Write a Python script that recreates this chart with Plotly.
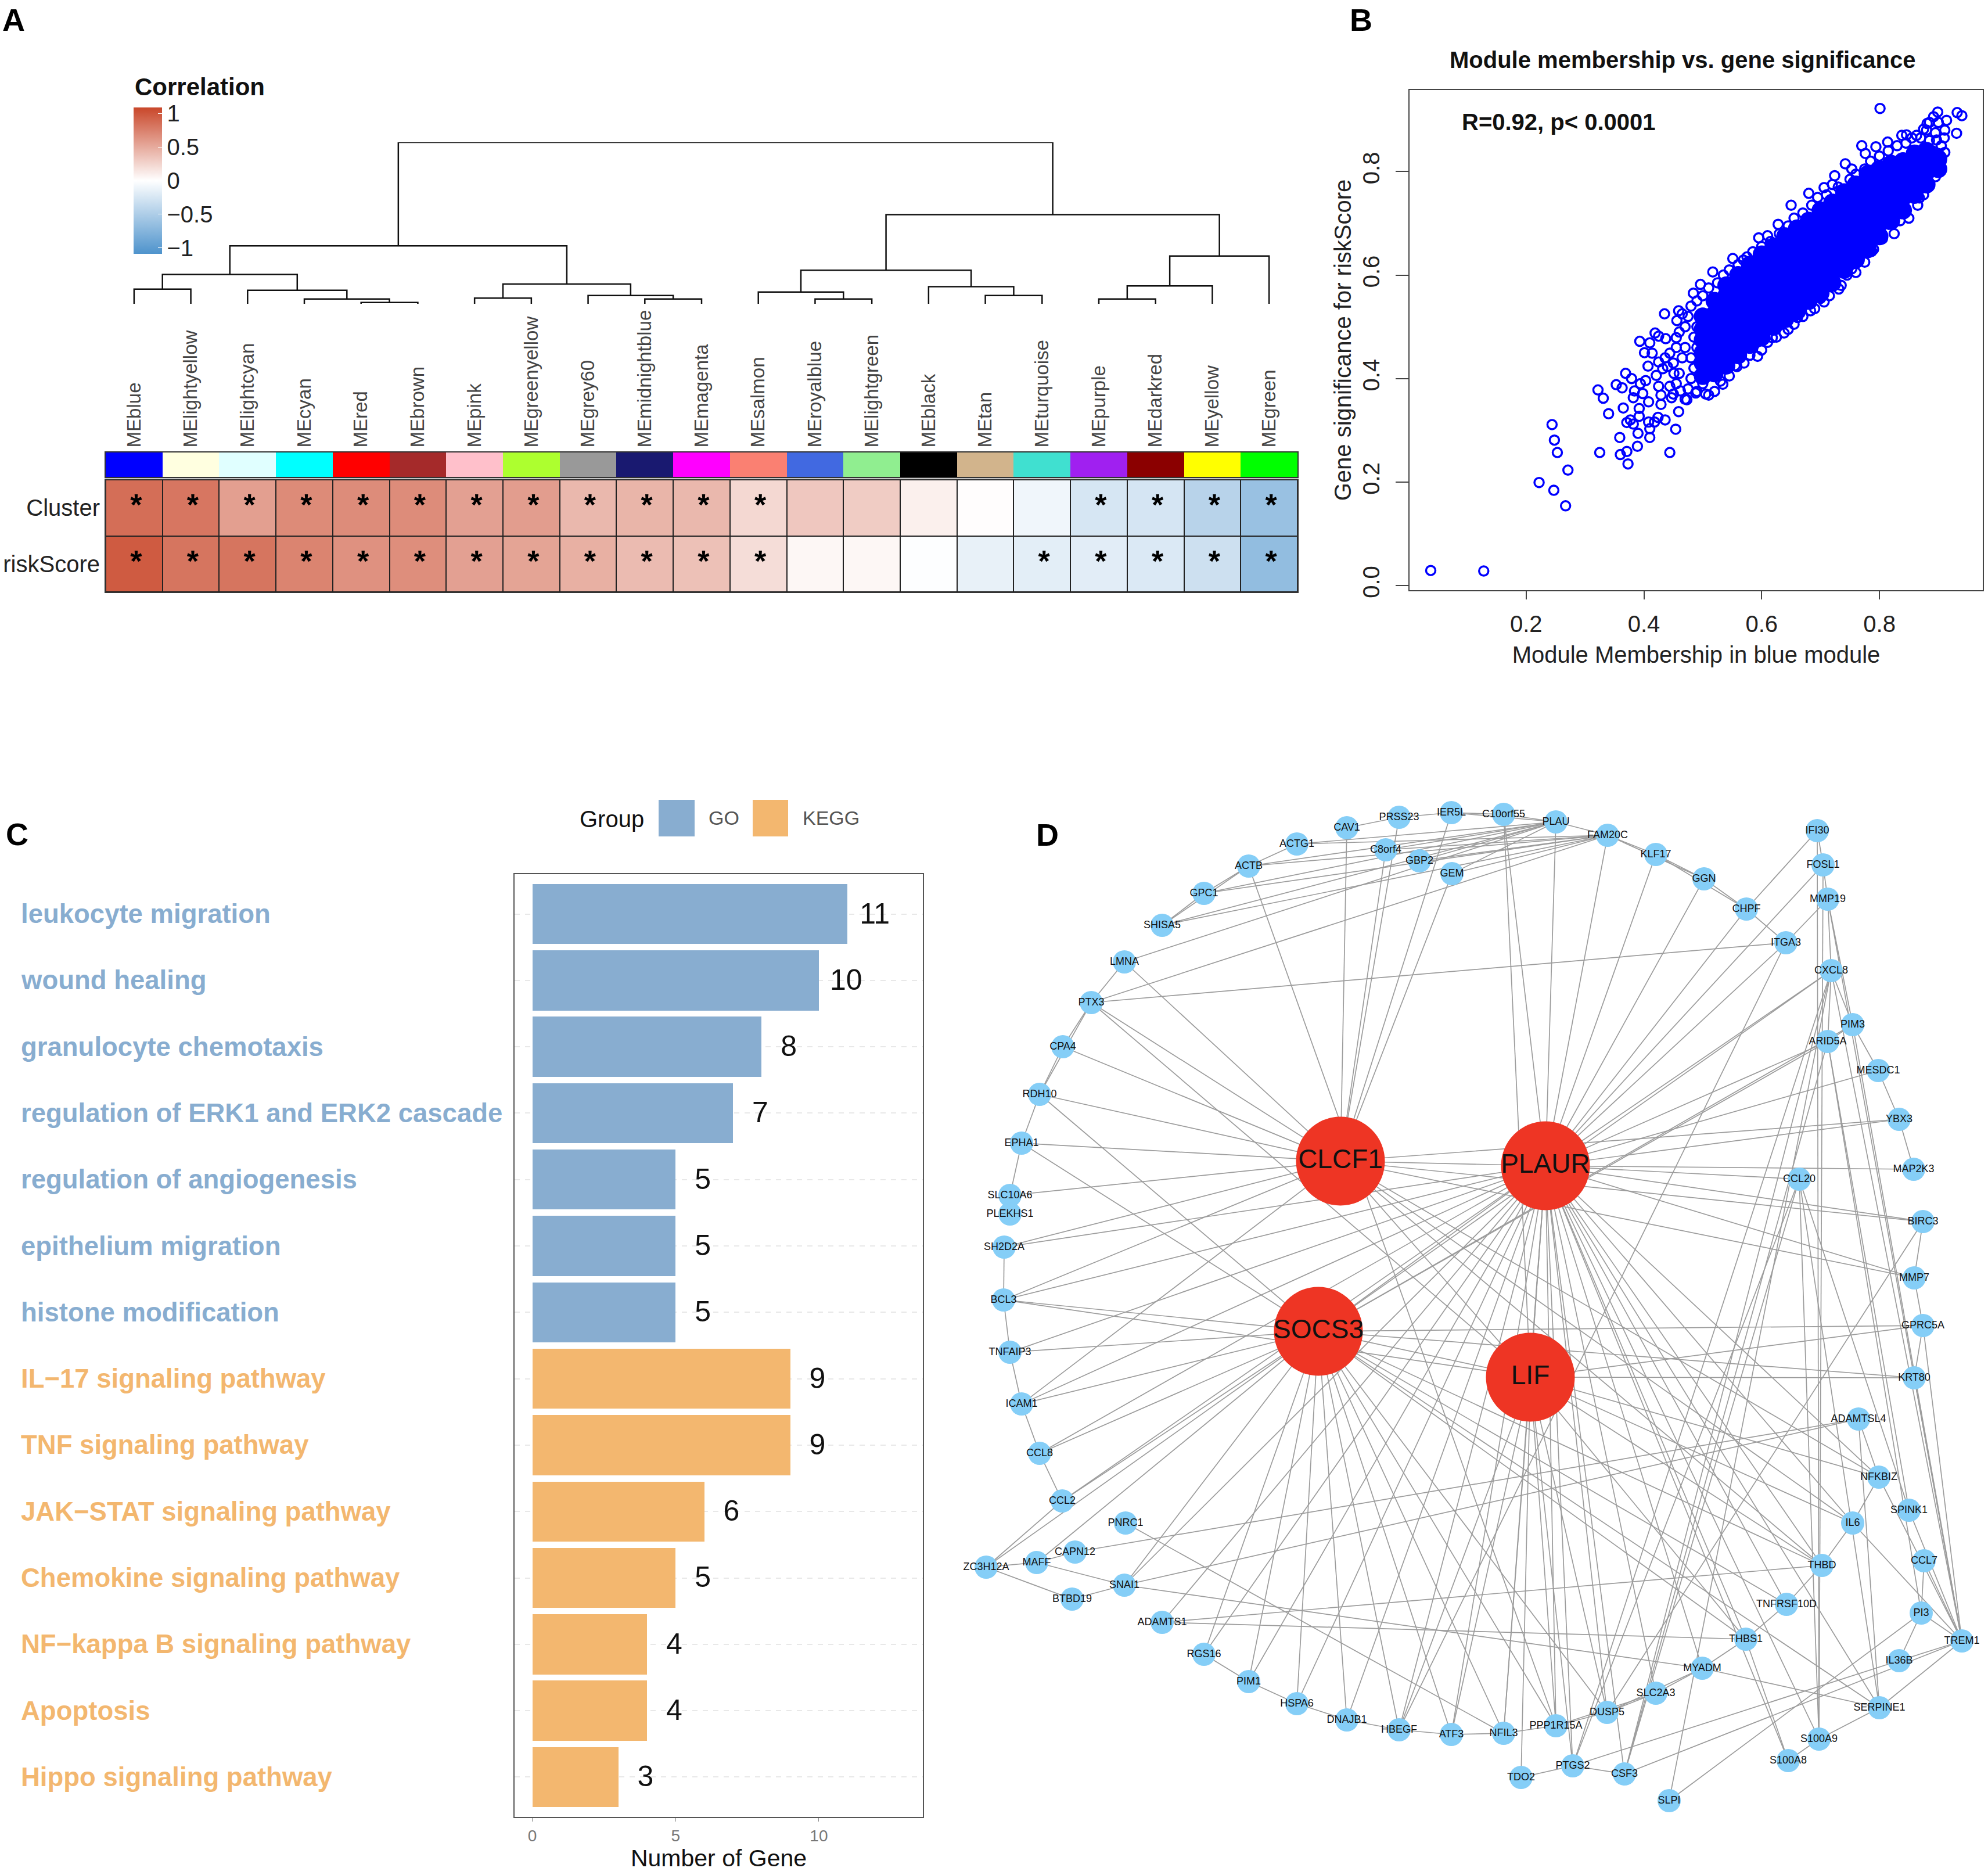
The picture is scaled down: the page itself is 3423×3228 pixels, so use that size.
import plotly.graph_objects as go

W, H = 3423, 3228
FONT = "Liberation Sans"

def dx(a, b):
    return [a / W, b / W]

def dy(top, bottom):
    return [1 - bottom / H, 1 - top / H]

# ---------- Panel A data ----------
module_names = ["MEblue", "MElightyellow", "MElightcyan", "MEcyan", "MEred", "MEbrown", "MEpink",
                "MEgreenyellow", "MEgrey60", "MEmidnightblue", "MEmagenta", "MEsalmon", "MEroyalblue",
                "MElightgreen", "MEblack", "MEtan", "MEturquoise", "MEpurple", "MEdarkred", "MEyellow", "MEgreen"]
module_colors = ["#0000FF", "#FFFFE0", "#E0FFFF", "#00FFFF", "#FF0000", "#A52A2A", "#FFC0CB", "#ADFF2F",
                 "#999999", "#191970", "#FF00FF", "#FA8072", "#4169E1", "#90EE90", "#000000", "#D2B48C",
                 "#40E0D0", "#A020F0", "#8B0000", "#FFFF00", "#00FF00"]
trait_names = ["Cluster", "riskScore"]
corr_cluster = [0.86, 0.81, 0.57, 0.69, 0.68, 0.68, 0.56, 0.58, 0.42, 0.44, 0.42, 0.23, 0.33, 0.30, 0.09, 0.01,
                -0.09, -0.25, -0.26, -0.44, -0.63]
corr_risk = [0.97, 0.82, 0.82, 0.73, 0.65, 0.67, 0.56, 0.54, 0.47, 0.40, 0.37, 0.20, 0.05, 0.05, -0.01, -0.14,
             -0.17, -0.18, -0.22, -0.31, -0.67]
star_cluster = [1] * 12 + [0] * 5 + [1] * 4
star_risk = [1] * 12 + [0] * 4 + [1] * 5
# merges: (left, right, height); index >= 21 refers to an earlier merge
dendro_merges = [(4, 5, .008), (3, 21, .030), (2, 22, .084), (0, 1, .091), (24, 23, .182), (6, 7, .035),
                 (9, 10, .030), (8, 27, .051), (26, 28, .122), (25, 29, .359), (12, 13, .030), (11, 31, .073),
                 (15, 16, .051), (14, 33, .106), (32, 34, .208), (17, 18, .030), (36, 19, .111), (37, 20, .296),
                 (35, 38, .552), (30, 39, 1.0)]

# ---------- Panel B data ----------
outlier_x = [.038, .128, .244, .248, .253, .271, .222, .247, .267, .322, .331, .340, .325, .353, .363, .369, .379,
             .365, .371, .359, .360, .371, .373, .389, .390, .410, .384, .382, .394, .403, .398, .392, .392, .377,
             .382, .408, .418, .424, .436, .410, .454, .444, .459, .408, .429, .435, .393, .410, .419, .425, .437,
             .401, .414, .407, .425, .436, .440, .421, .432, .425, .444, .429, .455, .459, .456, .444, .451, .447,
             .462, .484, .496, .517, .551, .569, .595, .610, .628, .650, .680, .706, .724, .742, .753, .770, .776,
             .794, .814, .801, .838, .846, .863, .875, .881, .892, .899, .932, .940, .931, .914, .911, .897, .911,
             .899, .886, .868, .838, .816, .801, .787, .753, .731, .706, .683, .661, .638, .618, .593, .558, .534,
             .510, .488, .473]
outlier_y = [.029, .028, .311, .281, .257, .223, .199, .184, .154, .378, .362, .332, .257, .388, .382, .410, .400,
             .343, .315, .286, .253, .259, .235, .269, .294, .286, .376, .363, .390, .396, .371, .342, .327, .320,
             .312, .316, .316, .325, .320, .303, .302, .257, .336, .355, .350, .525, .472, .469, .488, .482, .477,
             .450, .449, .424, .432, .440, .423, .406, .419, .385, .385, .368, .479, .531, .512, .449, .410, .363,
             .376, .565, .582, .606, .632, .629, .672, .676, .698, .735, .758, .769, .792, .815, .805, .850, .835,
             .848, .857, .922, .870, .871, .870, .882, .893, .906, .915, .914, .908, .874, .899, .880, .861, .837,
             .811, .797, .749, .736, .698, .672, .646, .612, .573, .548, .531, .518, .488, .479, .443, .423, .389,
             .368, .372, .359]
fringe_x = [.45, .455, .46, .45, .465, .455, .47, .46, .47, .465, .475, .48, .49, .50, .51, .475, .48, .47, .485, .48,
            .49, .485, .49, .495, .49, .50, .505, .50, .505, .51, .525, .535, .545, .56, .575, .585, .60, .615, .63,
            .645, .655, .67, .685, .695, .71, .72, .73, .75, .76, .775, .785, .80, .815, .83, .845, .855, .87, .88,
            .52, .53, .545, .555, .57, .58, .60, .61, .625, .645, .655, .67, .69, .70, .715, .735, .745, .76, .775,
            .79, .805, .825, .835, .85, .865, .875, .885, .895, .905, .90, .905, .91, .895, .885, .875, .89, .90, .885]
fringe_y = [.37, .39, .41, .43, .44, .46, .46, .49, .50, .525, .52, .54, .55, .56, .575, .38, .40, .36, .42, .44,
            .46, .48, .50, .52, .375, .39, .37, .41, .43, .45, .585, .60, .61, .62, .635, .645, .655, .665, .68,
            .695, .71, .72, .735, .75, .755, .775, .77, .785, .795, .805, .82, .83, .84, .85, .855, .865, .865, .88,
            .375, .395, .405, .425, .43, .445, .455, .47, .48, .495, .505, .52, .535, .555, .56, .58, .60, .605, .625,
            .65, .67, .68, .705, .71, .735, .755, .775, .79, .82, .835, .85, .865, .875, .86, .845, .84, .895, .895]
cloud_columns_x = [.50, .52, .54, .56, .58, .60, .62, .64, .66, .68, .70, .72, .74, .76, .78, .80, .82,
                   .84, .86, .88, .90]
cloud_columns_y = [
    [.405, .43, .45, .475, .495, .52],
    [.41, .435, .455, .48, .50, .525, .55],
    [.425, .45, .47, .495, .515, .54, .56, .58],
    [.445, .47, .49, .51, .535, .555, .58, .60],
    [.465, .485, .51, .53, .55, .575, .595, .62],
    [.48, .505, .525, .55, .57, .595, .615, .64],
    [.50, .52, .545, .565, .59, .61, .635, .655],
    [.515, .54, .56, .585, .605, .63, .65, .675],
    [.53, .55, .575, .595, .62, .64, .665, .69],
    [.55, .57, .595, .615, .64, .66, .685, .705],
    [.565, .59, .61, .635, .655, .68, .70, .725],
    [.585, .61, .63, .655, .675, .70, .72, .74],
    [.61, .63, .655, .675, .70, .72, .745, .76],
    [.63, .65, .675, .695, .72, .74, .765, .775],
    [.65, .67, .695, .715, .74, .76, .785, .795],
    [.675, .70, .72, .745, .765, .79, .805],
    [.705, .73, .75, .775, .795, .815],
    [.725, .75, .775, .795, .82],
    [.755, .77, .795, .815, .835],
    [.775, .80, .82, .84],
    [.805, .825],
]

# ---------- Panel C data ----------
term_names = ["leukocyte migration", "wound healing", "granulocyte chemotaxis", "regulation of ERK1 and ERK2 cascade",
              "regulation of angiogenesis", "epithelium migration", "histone modification", "IL−17 signaling pathway",
              "TNF signaling pathway", "JAK−STAT signaling pathway", "Chemokine signaling pathway",
              "NF−kappa B signaling pathway", "Apoptosis", "Hippo signaling pathway"]
gene_counts = [11, 10, 8, 7, 5, 5, 5, 9, 9, 6, 5, 4, 4, 3]
term_groups = ["GO"] * 7 + ["KEGG"] * 7
GROUP_COL = {"GO": "#88ADD0", "KEGG": "#F3B76F"}

# ---------- Panel D data ----------
gene_nodes = {
    "CAV1": (2319, 1425), "PRSS23": (2409, 1407), "IER5L": (2499, 1399), "ACTG1": (2233, 1453), "C8orf4": (2386, 1463),
    "GBP2": (2444, 1482), "GEM": (2500, 1504), "ACTB": (2150, 1491), "GPC1": (2073, 1538), "SHISA5": (2001, 1593),
    "LMNA": (1936, 1656), "PTX3": (1879, 1726), "CPA4": (1830, 1802), "RDH10": (1790, 1884), "EPHA1": (1759, 1968),
    "SLC10A6": (1739, 2058), "PLEKHS1": (1739, 2090), "SH2D2A": (1729, 2147), "BCL3": (1728, 2238),
    "TNFAIP3": (1739, 2328), "ICAM1": (1759, 2417), "CCL8": (1790, 2502), "CCL2": (1829, 2584), "PNRC1": (1938, 2622),
    "CAPN12": (1851, 2672), "MAFF": (1785, 2690), "ZC3H12A": (1698, 2698), "SNAI1": (1936, 2729), "BTBD19": (1846, 2753),
    "ADAMTS1": (2001, 2793), "RGS16": (2073, 2848), "PIM1": (2150, 2895), "HSPA6": (2233, 2933), "DNAJB1": (2319, 2961),
    "HBEGF": (2409, 2978), "ATF3": (2499, 2986), "C10orf55": (2589, 1402), "PLAU": (2679, 1415), "FAM20C": (2768, 1438),
    "KLF17": (2851, 1471), "GGN": (2934, 1513), "CHPF": (3007, 1565), "ITGA3": (3075, 1623), "IFI30": (3129, 1430),
    "FOSL1": (3139, 1489), "MMP19": (3147, 1548), "CXCL8": (3153, 1671), "PIM3": (3190, 1764), "ARID5A": (3147, 1793),
    "MESDC1": (3234, 1843), "YBX3": (3270, 1927), "MAP2K3": (3295, 2013), "CCL20": (3098, 2030), "BIRC3": (3311, 2103),
    "MMP7": (3296, 2200), "GPRC5A": (3311, 2282), "KRT80": (3296, 2372), "ADAMTSL4": (3200, 2443), "NFKBIZ": (3235, 2543),
    "SPINK1": (3287, 2600), "IL6": (3190, 2622), "CCL7": (3313, 2687), "THBD": (3137, 2695), "TNFRSF10D": (3076, 2762),
    "PI3": (3308, 2777), "TREM1": (3378, 2825), "THBS1": (3006, 2822), "IL36B": (3270, 2859), "MYADM": (2931, 2872),
    "SERPINE1": (3236, 2940), "SLC2A3": (2851, 2915), "DUSP5": (2767, 2948), "PPP1R15A": (2679, 2971), "NFIL3": (2589, 2984),
    "S100A9": (3132, 2994), "S100A8": (3079, 3031), "PTGS2": (2708, 3040), "CSF3": (2797, 3054), "TDO2": (2619, 3060),
    "SLPI": (2874, 3100),
}
hub_nodes = {"CLCF1": (2308, 1999), "PLAUR": (2661, 2007), "SOCS3": (2270, 2292), "LIF": (2635, 2371)}
clcf1_links = ["CAV1", "PRSS23", "C8orf4", "IER5L", "LMNA", "PTX3", "CPA4", "RDH10", "EPHA1", "SLC10A6", "SH2D2A",
               "BCL3", "ICAM1", "PLAUR", "YBX3", "BIRC3", "MMP7", "NFKBIZ", "THBD", "IL6", "GEM"]
socs3_links = ["BCL3", "TNFAIP3", "ICAM1", "CCL8", "CCL2", "ZC3H12A", "MAFF", "SNAI1", "RGS16", "PIM1",
               "HSPA6", "DNAJB1", "HBEGF", "ATF3", "NFIL3", "PPP1R15A", "DUSP5", "EPHA1", "RDH10", "CXCL8",
               "PIM3", "ARID5A", "KRT80", "GPRC5A", "TNFRSF10D", "THBS1", "THBD", "SERPINE1", "PLAUR", "LIF"]
plaur_links = ["PLAU", "C10orf55", "FAM20C", "KLF17", "GGN", "CHPF", "FOSL1", "ITGA3", "CXCL8", "ARID5A", "MESDC1",
               "YBX3", "MAP2K3", "CCL20", "BIRC3", "MMP7", "IL6", "NFKBIZ", "THBD", "TNFRSF10D", "THBS1", "S100A9",
               "S100A8", "SERPINE1", "MYADM", "SLC2A3", "DUSP5", "PPP1R15A", "NFIL3", "ATF3", "HBEGF", "DNAJB1",
               "HSPA6", "PIM1", "RGS16", "ADAMTS1", "SNAI1", "CCL2", "CCL8", "ICAM1", "TNFAIP3", "BCL3", "SH2D2A",
               "LIF", "PTGS2", "CSF3"]
lif_links = ["CLCF1", "TDO2", "NFIL3", "ATF3", "PPP1R15A", "HBEGF", "BCL3", "PTX3", "GPRC5A", "KRT80", "NFKBIZ",
             "IL6", "C10orf55", "THBD", "THBS1", "DUSP5", "PLAUR", "PTGS2"]
gene_links = [
    ("FAM20C", "ACTB"), ("FAM20C", "ACTG1"), ("FAM20C", "GPC1"), ("FAM20C", "SHISA5"), ("FAM20C", "C8orf4"),
    ("FAM20C", "GBP2"), ("FAM20C", "GEM"), ("FAM20C", "PTX3"), ("PLAU", "ACTB"), ("PLAU", "ACTG1"), ("PLAU", "GPC1"),
    ("PLAU", "SHISA5"), ("PLAU", "C8orf4"), ("PLAU", "GBP2"), ("PLAU", "GEM"), ("PLAU", "LMNA"), ("PLAU", "IER5L"),
    ("ACTB", "PPP1R15A"), ("ITGA3", "PTX3"), ("CAV1", "PRSS23"), ("PRSS23", "IER5L"), ("IER5L", "C10orf55"),
    ("C10orf55", "PLAU"), ("PLAU", "FAM20C"), ("FAM20C", "KLF17"), ("FAM20C", "GGN"), ("KLF17", "GGN"), ("KLF17", "CHPF"),
    ("GGN", "CHPF"), ("CHPF", "ITGA3"), ("ACTG1", "ACTB"), ("ACTB", "GPC1"), ("ACTB", "SHISA5"), ("GPC1", "SHISA5"),
    ("LMNA", "PTX3"), ("PTX3", "CPA4"), ("CPA4", "RDH10"), ("PTX3", "RDH10"), ("RDH10", "EPHA1"), ("EPHA1", "SLC10A6"),
    ("SLC10A6", "PLEKHS1"), ("SH2D2A", "BCL3"), ("BCL3", "TNFAIP3"), ("TNFAIP3", "ICAM1"), ("ICAM1", "CCL8"),
    ("CCL8", "CCL2"), ("CCL2", "ZC3H12A"), ("ZC3H12A", "MAFF"), ("ZC3H12A", "BTBD19"), ("MAFF", "CAPN12"),
    ("MAFF", "SNAI1"), ("BTBD19", "SNAI1"), ("CAPN12", "ADAMTSL4"), ("SNAI1", "ADAMTSL4"), ("SNAI1", "MYADM"),
    ("PNRC1", "NFIL3"), ("ADAMTS1", "THBD"), ("ADAMTS1", "THBS1"), ("RGS16", "PIM1"), ("PIM1", "HSPA6"),
    ("HSPA6", "DNAJB1"), ("DNAJB1", "HBEGF"), ("HBEGF", "ATF3"), ("ATF3", "NFIL3"), ("NFIL3", "PPP1R15A"),
    ("PPP1R15A", "DUSP5"), ("PPP1R15A", "SLC2A3"), ("DUSP5", "SLC2A3"), ("DUSP5", "MYADM"), ("SLC2A3", "MYADM"),
    ("MYADM", "THBS1"), ("THBS1", "TNFRSF10D"), ("TNFRSF10D", "THBD"), ("THBD", "IL6"), ("IL6", "NFKBIZ"),
    ("IL6", "TREM1"), ("MYADM", "SERPINE1"), ("SERPINE1", "TREM1"), ("S100A9", "SERPINE1"), ("S100A8", "S100A9"),
    ("TDO2", "PTGS2"), ("PTGS2", "CSF3"), ("PTGS2", "IL36B"), ("CSF3", "TREM1"), ("SLPI", "PI3"), ("SLPI", "CXCL8"),
    ("IL36B", "TREM1"), ("IL36B", "PI3"), ("PI3", "TREM1"), ("PI3", "CCL7"), ("CCL7", "TREM1"), ("SPINK1", "TREM1"),
    ("NFKBIZ", "TREM1"), ("KRT80", "TREM1"), ("GPRC5A", "TREM1"), ("MMP19", "TREM1"), ("PIM3", "TREM1"),
    ("CXCL8", "TREM1"), ("BIRC3", "MMP7"), ("MMP7", "GPRC5A"), ("GPRC5A", "KRT80"), ("YBX3", "MAP2K3"),
    ("MESDC1", "YBX3"), ("PIM3", "MESDC1"), ("ARID5A", "PIM3"), ("CXCL8", "PIM3"), ("MMP19", "CXCL8"), ("MMP19", "PIM3"),
    ("IFI30", "FOSL1"), ("FOSL1", "MMP19"), ("IFI30", "CHPF"), ("IFI30", "S100A9"), ("FOSL1", "S100A9"), ("MMP19", "ITGA3"),
    ("CXCL8", "ARID5A"), ("CXCL8", "CSF3"), ("CXCL8", "PTGS2"), ("ARID5A", "CSF3"),
    ("ARID5A", "SPINK1"), ("ARID5A", "PI3"), ("CCL20", "CSF3"), ("CCL20", "PTGS2"),
    ("CCL20", "SERPINE1"), ("CCL20", "S100A9"), ("CCL20", "SPINK1"), ("ITGA3", "HBEGF"), ("ADAMTSL4", "SERPINE1"),
    ("ADAMTSL4", "NFKBIZ"), ("BIRC3", "DUSP5"), ("THBS1", "S100A8"),
]

# ---------- Figure ----------
fig = go.Figure()

# A: dendrogram, built through the merges
pos = {i: (float(i), 0.0) for i in range(21)}
dx_line, dy_line = [], []
for k, (a, b, h) in enumerate(dendro_merges):
    xa, ha = pos[a]
    xb, hb = pos[b]
    dx_line += [xa, xa, xb, xb, None]
    dy_line += [ha, h, h, hb, None]
    pos[21 + k] = ((xa + xb) / 2, h)
fig.add_trace(go.Scatter(x=dx_line, y=dy_line, mode="lines", xaxis="x3", yaxis="y3",
                         line=dict(color="#111111", width=2.5), showlegend=False, hoverinfo="skip"))

# A: module colour strip
idx = list(range(21))
fig.add_trace(go.Heatmap(z=[idx], x=idx, y=[0], xaxis="x2", yaxis="y2", zmin=0, zmax=20, xgap=0, ygap=0, showscale=False,
                         colorscale=[[i / 20, c] for i, c in enumerate(module_colors)], hoverinfo="skip"))

# A: correlation heatmap
fig.add_trace(go.Heatmap(
    z=[corr_cluster, corr_risk], x=idx, y=[0, 1], xaxis="x", yaxis="y", zmin=-1.09, zmax=1.09, xgap=2, ygap=2,
    colorscale=[[0, "#4E93CC"], [0.5, "#FFFFFF"], [1, "#C9472A"]],
    colorbar=dict(x=230 / W, xanchor="left", xpad=0, ypad=0, y=1 - 311 / H, yanchor="middle", lenmode="pixels", len=252,
                  thicknessmode="pixels", thickness=49, outlinewidth=0, ticks="inside", ticklen=7, tickcolor="#FFFFFF",
                  tickvals=[-1, -.5, 0, .5, 1], ticktext=["−1", "−0.5", "0", "0.5", "1"],
                  tickfont=dict(size=40, color="#222222", family=FONT))))
star_x, star_y = [], []
for row, flags in enumerate([star_cluster, star_risk]):
    for i, f in enumerate(flags):
        if f:
            star_x.append(i + 0.035)
            star_y.append(row)
fig.add_trace(go.Scatter(x=star_x, y=star_y, mode="text", text=["<b>*</b>"] * len(star_x), xaxis="x", yaxis="y",
                         textfont=dict(size=52, color="#000000", family=FONT), showlegend=False, hoverinfo="skip"))

# B: scatter
cloud_x, cloud_y = [], []
for cx, ys in zip(cloud_columns_x, cloud_columns_y):
    cloud_x += [cx] * len(ys)
    cloud_y += ys
fig.add_trace(go.Scatter(x=cloud_x, y=cloud_y, mode="markers", xaxis="x4", yaxis="y4", showlegend=False,
                         marker=dict(size=31, color="#0000FF", line=dict(width=0))))
fig.add_trace(go.Scatter(x=outlier_x + fringe_x, y=outlier_y + fringe_y, mode="markers", xaxis="x4", yaxis="y4", showlegend=False,
                         marker=dict(symbol="circle-open", size=16, color="#0000FF", line=dict(width=3.5, color="#0000FF"))))

# C: bars
for g in ["GO", "KEGG"]:
    sel = [i for i, t in enumerate(term_groups) if t == g]
    fig.add_trace(go.Bar(y=sel, x=[gene_counts[i] for i in sel], orientation="h", width=0.905, name=g, xaxis="x5", yaxis="y5",
                         marker=dict(color=GROUP_COL[g], line=dict(width=0)), showlegend=False))
fig.add_trace(go.Scatter(x=[c + 0.95 for c in gene_counts], y=[i + 0.03 for i in range(14)], mode="text", text=[str(c) for c in gene_counts],
                         xaxis="x5", yaxis="y5", textfont=dict(size=50, color="#111111", family=FONT), showlegend=False,
                         hoverinfo="skip"))

# D: network
all_nodes = {**gene_nodes, **hub_nodes}
edge_x, edge_y = [], []
pairs = [("CLCF1", n) for n in clcf1_links] + [("SOCS3", n) for n in socs3_links] + [("PLAUR", n) for n in plaur_links] + \
        [("LIF", n) for n in lif_links] + gene_links
for a, b in pairs:
    edge_x += [all_nodes[a][0], all_nodes[b][0], None]
    edge_y += [all_nodes[a][1], all_nodes[b][1], None]
fig.add_trace(go.Scatter(x=edge_x, y=edge_y, mode="lines", xaxis="x6", yaxis="y6", showlegend=False, hoverinfo="skip",
                         line=dict(color="#9C9C9C", width=1.7)))
fig.add_trace(go.Scatter(x=[v[0] for v in gene_nodes.values()], y=[v[1] for v in gene_nodes.values()], mode="markers+text",
                         text=list(gene_nodes), textposition="middle center", xaxis="x6", yaxis="y6", showlegend=False,
                         marker=dict(size=40, color="#85CEF7", line=dict(width=0)),
                         textfont=dict(size=18, color="#111111", family=FONT)))
fig.add_trace(go.Scatter(x=[v[0] for v in hub_nodes.values()], y=[v[1] for v in hub_nodes.values()], mode="markers+text",
                         text=list(hub_nodes), textposition="middle center", xaxis="x6", yaxis="y6", showlegend=False,
                         marker=dict(size=153, color="#EE3524", line=dict(width=0)),
                         textfont=dict(size=46, color="#111111", family=FONT)))

annotations = []

def note(text, x, y, size, color="#000000", bold=False, anchor="left", **kw):
    annotations.append(dict(text=f"<b>{text}</b>" if bold else text, x=x / W, y=1 - y / H, xref="paper", yref="paper", showarrow=False,
                            xanchor=anchor, yanchor="middle", font=dict(size=size, color=color, family=FONT), **kw))

for lab, x, y in [("A", 2, 34), ("B", 2322, 34), ("C", 8, 1436), ("D", 1782, 1437)]:
    note(lab, x, y, 54, bold=True)
note("Correlation", 230, 149, 42, bold=True, color="#111111")
note("Module membership vs. gene significance", 2897, 103, 40, bold=True, anchor="center", color="#111111")
note("R=0.92, p&lt; 0.0001", 2515, 210, 40, bold=True, color="#111111")
note("Group", 996, 1410, 40, color="#111111")
note("GO", 1218, 1408, 34, color="#555555")
note("KEGG", 1380, 1408, 34, color="#555555")
for i, (t, g) in enumerate(zip(term_names, term_groups)):
    annotations.append(dict(text=f"<b>{t}</b>", x=34 / W, y=i, xref="paper", yref="y5", showarrow=False, xanchor="left", yanchor="middle",
                            font=dict(size=45.5, color=GROUP_COL[g], family=FONT)))

shapes = [
    dict(type="rect", xref="paper", yref="paper", x0=1134 / W, x1=1196 / W, y0=1 - 1440 / H, y1=1 - 1377 / H,
         fillcolor=GROUP_COL["GO"], line=dict(width=0)),
    dict(type="rect", xref="paper", yref="paper", x0=1296 / W, x1=1357 / W, y0=1 - 1440 / H, y1=1 - 1377 / H,
         fillcolor=GROUP_COL["KEGG"], line=dict(width=0)),
    dict(type="rect", xref="x domain", yref="y domain", x0=0, x1=1, y0=0, y1=1, fillcolor="#222222", line=dict(width=0), layer="below"),
]

hidden = dict(visible=False)
fig.update_layout(
    width=W, height=H, margin=dict(l=0, r=0, t=0, b=0, autoexpand=False), paper_bgcolor="#FFFFFF", plot_bgcolor="#FFFFFF",
    font=dict(family=FONT, color="#222222"), annotations=annotations, shapes=shapes, showlegend=False, bargap=0,
    # heatmap
    xaxis=dict(domain=dx(182, 2234), range=[-.5, 20.5], showticklabels=False, ticks="", showgrid=False, zeroline=False, anchor="y",
               showline=True, mirror=True, linecolor="#333333", linewidth=2),
    yaxis=dict(domain=dy(826, 1019), range=[1.5, -.5], tickvals=[0, 1], ticktext=trait_names, ticks="", showgrid=False, zeroline=False,
               tickfont=dict(size=40, color="#222222"), anchor="x", showline=True, mirror=True, linecolor="#333333", linewidth=2),
    # strip
    xaxis2=dict(domain=dx(182, 2234), range=[-.5, 20.5], side="top", tickvals=idx, ticktext=module_names, tickangle=-90, ticks="",
                showgrid=False, zeroline=False, tickfont=dict(size=33, color="#444444"), anchor="y2",
                showline=True, mirror=True, linecolor="#333333", linewidth=2),
    yaxis2=dict(domain=dy(779, 821), range=[-.5, .5], showticklabels=False, ticks="", showgrid=False, zeroline=False, anchor="x2",
                showline=True, mirror=True, linecolor="#333333", linewidth=2),
    # dendrogram
    xaxis3=dict(domain=dx(182, 2234), range=[-.5, 20.5], anchor="y3", **hidden),
    yaxis3=dict(domain=dy(245, 523), range=[0, 1], anchor="x3", **hidden),
    # scatter
    xaxis4=dict(domain=dx(2427, 3414), range=[.002, .9755], anchor="y4", tickvals=[.2, .4, .6, .8], ticktext=["0.2", "0.4", "0.6", "0.8"],
                showline=True, mirror=True, linecolor="#444444", linewidth=2, ticks="outside", ticklen=14, tickwidth=2, tickcolor="#444444",
                showgrid=False, zeroline=False, tickfont=dict(size=40, color="#222222"), ticklabelstandoff=8,
                title=dict(text="Module Membership in blue module", font=dict(size=40, color="#222222"), standoff=18)),
    yaxis4=dict(domain=dy(155, 1016), range=[-.009, .9576], anchor="x4", tickvals=[0, .2, .4, .6, .8], ticktext=["0.0", "0.2", "0.4", "0.6", "0.8"],
                tickangle=-90, showline=True, mirror=True, linecolor="#444444", linewidth=2, ticks="outside", ticklen=22, tickwidth=2, tickcolor="#444444",
                showgrid=False, zeroline=False, tickfont=dict(size=40, color="#222222"), ticklabelstandoff=12,
                title=dict(text="Gene significance for riskScore", font=dict(size=40, color="#222222"), standoff=0)),
    # bars
    xaxis5=dict(domain=dx(886, 1589), range=[-.62, 13.63], anchor="y5", tickvals=[0, 5, 10], showline=True, mirror=True, linecolor="#555555",
                linewidth=2, ticks="outside", ticklen=6, tickcolor="#888888", showgrid=False, zeroline=False, tickfont=dict(size=28, color="#777777"),
                title=dict(text="Number of Gene", font=dict(size=41, color="#111111"), standoff=8)),
    yaxis5=dict(domain=dy(1505, 3128), range=[13.6, -.6], anchor="x5", tickvals=list(range(14)), showticklabels=False, ticks="",
                showline=True, mirror=True, linecolor="#555555", linewidth=2, showgrid=True, gridcolor="#E8E8E8", gridwidth=2, griddash="dash", zeroline=False),
    # network
    xaxis6=dict(domain=dx(1640, 3423), range=[1640, 3423], anchor="y6", **hidden),
    yaxis6=dict(domain=dy(1340, 3228), range=[3228, 1340], anchor="x6", **hidden),
)
fig.write_html("out.html", config={"displayModeBar": False}, post_script="document.body.style.margin='0';")
